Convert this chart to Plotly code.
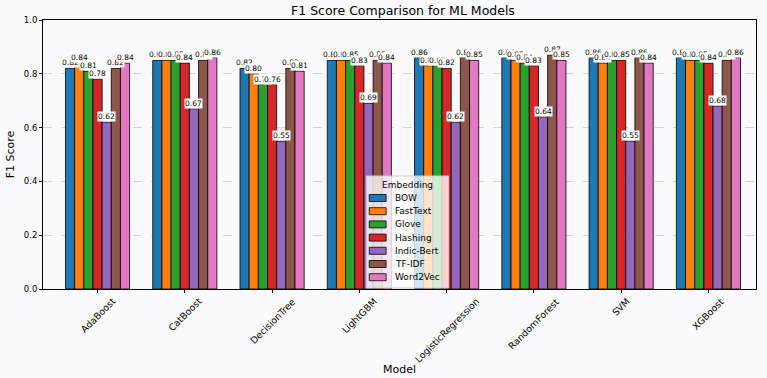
import math
import plotly.graph_objects as go

models = ["AdaBoost", "CatBoost", "DecisionTree", "LightGBM", "LogisticRegression",
          "RandomForest", "SVM", "XGBoost"]
embeddings = ["BOW", "FastText", "Glove", "Hashing", "Indic-Bert", "TF-IDF", "Word2Vec"]
bow        = [0.82, 0.85, 0.82, 0.85, 0.86, 0.86, 0.86, 0.86]
fasttext   = [0.84, 0.85, 0.80, 0.85, 0.83, 0.85, 0.84, 0.85]
glove      = [0.81, 0.85, 0.76, 0.85, 0.83, 0.84, 0.85, 0.85]
hashing    = [0.78, 0.84, 0.76, 0.83, 0.82, 0.83, 0.85, 0.84]
indic_bert = [0.62, 0.67, 0.55, 0.69, 0.62, 0.64, 0.55, 0.68]
tfidf      = [0.82, 0.85, 0.82, 0.85, 0.86, 0.87, 0.86, 0.85]
word2vec   = [0.84, 0.86, 0.81, 0.84, 0.85, 0.85, 0.84, 0.86]
series = [bow, fasttext, glove, hashing, indic_bert, tfidf, word2vec]
colors = ["#1f77b4", "#ff7f0e", "#2ca02c", "#d62728", "#9467bd", "#8c564b", "#e377c2"]

W, H = 767, 378
ML, MR, MT, MB = 38, 10, 20, 89
PW, PH = W - ML - MR, H - MT - MB


def px(xp):
    return (xp - ML) / PW


def py(yp):
    return (H - MB - yp) / PH


# approximate DejaVu Sans advance widths (em)
CW = {"A": .684, "B": .686, "C": .698, "D": .770, "F": .575, "G": .775, "L": .557,
      "M": .863, "R": .695, "S": .635, "T": .611, "V": .684, "X": .685,
      "a": .613, "b": .635, "c": .550, "d": .635, "e": .615, "f": .352, "g": .635,
      "h": .634, "i": .278, "l": .278, "m": .974, "n": .634, "o": .612, "r": .411,
      "s": .521, "t": .392, "u": .634, "v": .592, "y": .592}


def text_w(s, size):
    return sum(CW.get(c, 0.6) for c in s) * size


bg = "#faf9fb"
fig = go.Figure()
bw = 0.105
annotations = []
shapes = []
for i, (name, vals, col) in enumerate(zip(embeddings, series, colors)):
    xs = [j + (i - 3) * bw for j in range(len(models))]
    fig.add_trace(go.Bar(
        x=xs, y=vals, name=name, width=bw, showlegend=False,
        marker=dict(color=col, line=dict(color="black", width=0.8)),
    ))
    for x, v in zip(xs, vals):
        annotations.append(dict(
            x=x, y=v, xref="x", yref="y", text=f"{v:.2f}", showarrow=False,
            yanchor="bottom", xanchor="center", bgcolor="white", borderpad=0,
            font=dict(size=7.5, color="black", family="DejaVu Sans"),
        ))

# rotated tick labels centered under ticks (matplotlib style)
TFS = 9.3
for j, m in enumerate(models):
    side = (text_w(m, TFS) + TFS * 1.15) / math.sqrt(2)
    yc = 296 + side / 2
    annotations.append(dict(
        x=j, y=py(yc), xref="x", yref="paper", text=m, showarrow=False,
        textangle=-45, xanchor="center", yanchor="middle",
        font=dict(size=TFS, color="black", family="DejaVu Sans"),
    ))

annotations.append(dict(
    x=px(397), y=py(369), xref="paper", yref="paper", text="Model", showarrow=False,
    xanchor="center", yanchor="middle", font=dict(size=11, color="black"),
))

# legend (lower center, matplotlib style)
lx0, lx1, ly0, ly1 = 364, 447, 176, 288
shapes.append(dict(type="rect", xref="paper", yref="paper",
                   x0=px(lx0), x1=px(lx1), y0=py(ly1), y1=py(ly0),
                   fillcolor="rgba(255,255,255,0.8)", line=dict(color="#cccccc", width=1),
                   layer="above"))
annotations.append(dict(
    x=px((lx0 + lx1) / 2), y=py(185), xref="paper", yref="paper", text="Embedding",
    showarrow=False, xanchor="center", yanchor="middle",
    font=dict(size=9, color="black"),
))
for i, (name, col) in enumerate(zip(embeddings, colors)):
    yc = 198 + i * 13.2
    shapes.append(dict(type="rect", xref="paper", yref="paper",
                       x0=px(367), x1=px(384), y0=py(yc + 3.5), y1=py(yc - 3.5),
                       fillcolor=col, line=dict(color="black", width=0.8), layer="above"))
    annotations.append(dict(
        x=px(391), y=py(yc), xref="paper", yref="paper", text=name, showarrow=False,
        xanchor="left", yanchor="middle", font=dict(size=9, color="black"),
    ))

fig.update_layout(
    width=W, height=H,
    margin=dict(l=ML, r=MR, t=MT, b=MB),
    paper_bgcolor=bg, plot_bgcolor=bg,
    font=dict(family="DejaVu Sans", size=9, color="black"),
    title=dict(text="F1 Score Comparison for ML Models", x=px(401), xref="paper",
               xanchor="center", y=1 - 11 / H, yanchor="middle", font=dict(size=12.5)),
    barmode="overlay",
    showlegend=False,
    annotations=annotations,
    shapes=shapes,
    xaxis=dict(
        range=[-0.625, 7.545], tickmode="array", tickvals=list(range(len(models))),
        ticktext=[""] * len(models), ticks="outside", ticklen=3, tickcolor="black",
        showline=True, linecolor="black", linewidth=1, mirror=True, showgrid=False,
        zeroline=False,
    ),
    yaxis=dict(
        range=[0, 1.0], tickvals=[0, 0.2, 0.4, 0.6, 0.8, 1.0],
        ticktext=["0.0", "0.2", "0.4", "0.6", "0.8", "1.0"],
        ticks="outside", ticklen=3, tickcolor="black",
        showline=True, linecolor="black", linewidth=1, mirror=True,
        showgrid=True, gridcolor="#d4d4d4", griddash="dash", gridwidth=0.7,
        zeroline=False, tickfont=dict(size=8.5),
        title=dict(text="F1 Score", font=dict(size=11), standoff=6),
    ),
)
fig.write_html("out.html")
